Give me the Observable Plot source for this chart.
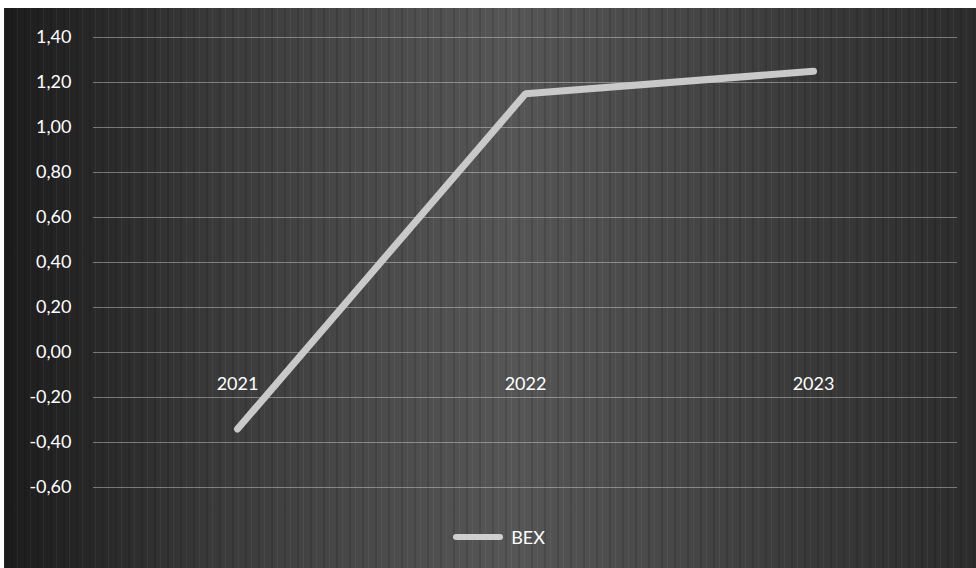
<!DOCTYPE html>
<html>
<head>
<meta charset="utf-8">
<script src="https://cdn.jsdelivr.net/npm/d3@7"></script>
<script src="https://cdn.jsdelivr.net/npm/@observablehq/plot@0.6"></script>
<style>
  html, body { margin: 0; padding: 0; background: #ffffff; }
  #chart {
    position: absolute; left: 4px; top: 8px; width: 972px; height: 560px;
    background:
      repeating-linear-gradient(to right, rgba(255,255,255,0.05) 0px, rgba(255,255,255,0.05) 1px, rgba(0,0,0,0) 1px, rgba(0,0,0,0) 7px, rgba(0,0,0,0.12) 7px, rgba(0,0,0,0.12) 9px, rgba(0,0,0,0) 9px, rgba(0,0,0,0) 13px),
      linear-gradient(to right, #1c1c1c 0%, #262626 8%, #3a3a3a 22%, #4c4c4c 40%, #565656 52%, #4a4a4a 66%, #3a3a3a 82%, #2c2c2c 100%);
    font-family: Lato, "Open Sans", sans-serif;
  }
  #legend {
    display: flex; justify-content: center; align-items: center; gap: 8px;
    padding-left: 18px; margin-top: 18px; color: #ffffff; font-size: 18px;
  }
  #legend .sw { width: 50px; height: 6px; border-radius: 3px; background: #cfcfcf; }
</style>
</head>
<body>
<div id="chart"></div>
<script>
const years = ["2021", "2022", "2023"];
const bex = [-0.34, 1.15, 1.25];
const yTicks = [-0.6, -0.4, -0.2, 0, 0.2, 0.4, 0.6, 0.8, 1.0, 1.2, 1.4];
const seriesName = "BEX";
const yearLabelLevel = -0.14;

const data = years.map((y, i) => ({year: y, value: bex[i]}));
const fmt = d => d.toFixed(2).replace(".", ",");

const plot = Plot.plot({
  width: 972,
  height: 500,
  marginLeft: 89,
  marginRight: 19,
  marginTop: 29,
  marginBottom: 21,
  style: {background: "transparent", color: "#ffffff", fontFamily: "Lato, 'Open Sans', sans-serif", fontSize: "18px"},
  x: {type: "point", domain: years, padding: 0.5, axis: null},
  y: {domain: [-0.6, 1.4], ticks: yTicks, tickFormat: fmt, label: null},
  marks: [
    Plot.gridY(yTicks, {stroke: "#d8d8d8", strokeOpacity: 0.45, strokeWidth: 1.2}),
    Plot.axisY(yTicks, {tickSize: 0, tickPadding: 22, tickFormat: fmt, label: null, fontSize: 18, fill: "#ffffff"}),
    Plot.text(data, {x: "year", y: () => yearLabelLevel, text: "year", fill: "#ffffff", fontSize: 18}),
    Plot.line(data, {x: "year", y: "value", stroke: "#c9c9c9", strokeWidth: 7, strokeLinecap: "round", strokeLinejoin: "miter"})
  ]
});

const chart = document.getElementById("chart");
chart.appendChild(plot);
const legend = document.createElement("div");
legend.id = "legend";
legend.innerHTML = `<span class="sw"></span><span>${seriesName}</span>`;
chart.appendChild(legend);
</script>
</body>
</html>
